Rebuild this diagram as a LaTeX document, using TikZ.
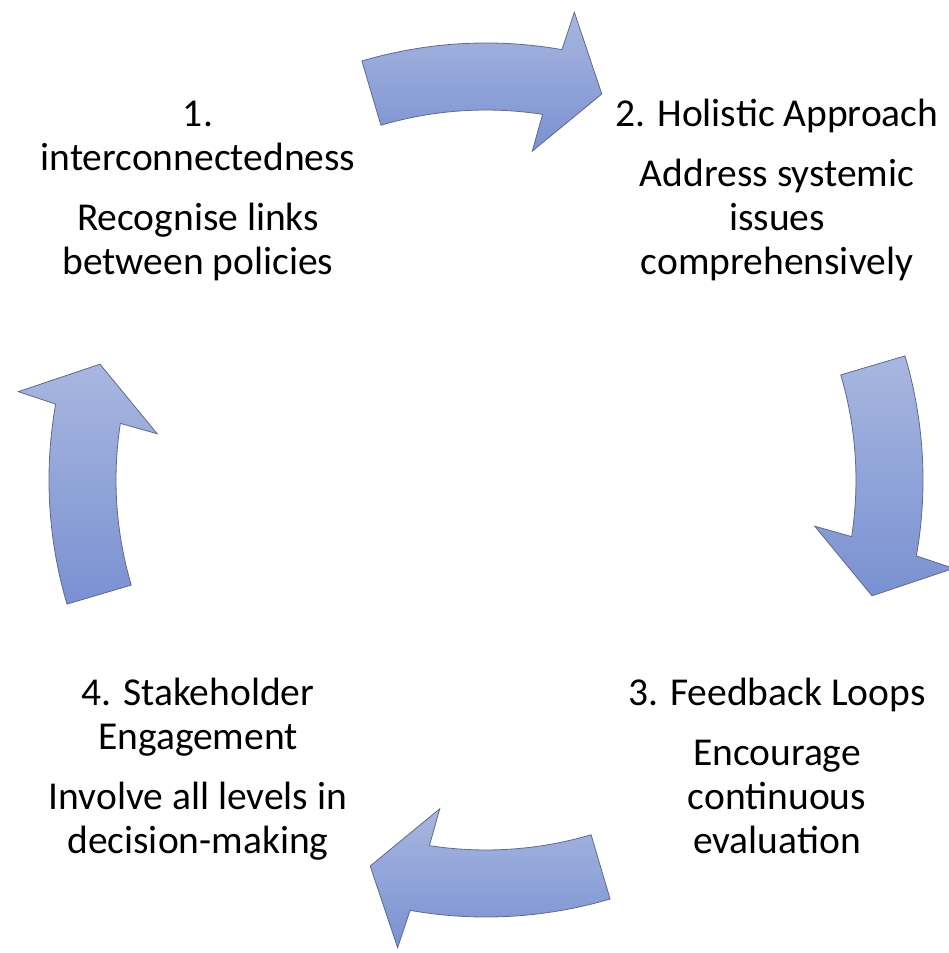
\documentclass[tikz,border=0pt]{standalone}
\usepackage{fontspec}
\setmainfont{Carlito}
\definecolor{arrowtop}{RGB}{168,183,224}
\definecolor{arrowbot}{RGB}{122,145,210}
\definecolor{arrowline}{RGB}{96,106,138}
\begin{document}
\begin{tikzpicture}[x=1pt,y=1pt,
  cyclearrow/.style={draw=arrowline, line width=0.8pt, line join=miter,
    top color=arrowtop, bottom color=arrowbot},
  stage/.style={align=center, inner sep=0pt,
    font=\fontsize{39.5}{44}\selectfont, anchor=base}]
\useasboundingbox (-486,-473) rectangle (463,480);
% four curved block arrows around the cycle centre, running clockwise
\foreach \c in {90,0,-90,-180} {
  \path[cyclearrow]
    (\c+16.5:437) arc[start angle=\c+16.5, end angle=\c-10, radius=437]
    -- (\c-10.7:476) -- (\c-16.7:403) -- (\c-8:332) -- (\c-8.8:370)
    arc[start angle=\c-8.8, end angle=\c+16.5, radius=370] -- cycle;
}
% stage texts (anchored at the baseline of their last line)
\node[stage] (s1) at (-288,205) {1.\\interconnectedness\\[16pt]Recognise links\\between policies};
\node[stage] (s2) at (291,205) {2. Holistic Approach\\[16pt]Address systemic\\issues\\comprehensively};
\node[stage] (s3) at (291,-373) {3. Feedback Loops\\[16pt]Encourage\\continuous\\evaluation};
\node[stage] (s4) at (-288,-373) {4. Stakeholder\\Engagement\\[16pt]Involve all levels in\\decision-making};
\end{tikzpicture}
\end{document}
